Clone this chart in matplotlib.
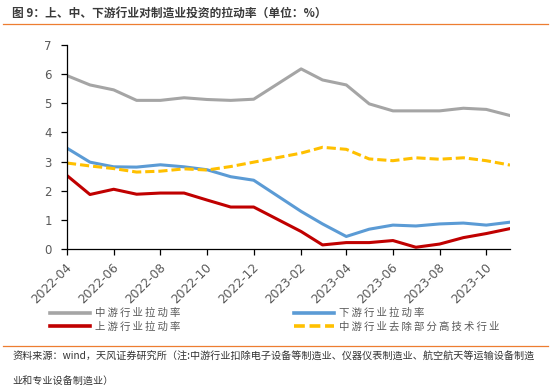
import numpy as np
import pandas as pd
import matplotlib
matplotlib.use("Agg")
import matplotlib.pyplot as plt
import matplotlib.dates as mdates
import matplotlib.transforms as mtransforms
from matplotlib.lines import Line2D

plt.rcParams['font.family'] = ['Noto Sans CJK SC', 'DejaVu Sans']

# ==============================
# DATA
# ==============================
months = ['2022-04', '2022-05', '2022-06', '2022-07', '2022-08', '2022-09',
          '2022-10', '2022-11', '2022-12', '2023-02', '2023-03', '2023-04',
          '2023-05', '2023-06', '2023-07', '2023-08', '2023-09', '2023-10',
          '2023-11']

mid_rate = [5.95, 5.63, 5.46, 5.10, 5.10, 5.19, 5.13, 5.10, 5.14, 6.18,
            5.80, 5.63, 4.98, 4.74, 4.74, 4.74, 4.83, 4.79, 4.58]
down_rate = [3.46, 2.98, 2.82, 2.81, 2.89, 2.82, 2.72, 2.48, 2.36, 1.29,
             0.86, 0.43, 0.68, 0.82, 0.79, 0.86, 0.89, 0.82, 0.92]
up_rate = [2.52, 1.87, 2.05, 1.88, 1.92, 1.92, 1.68, 1.44, 1.44, 0.60,
           0.14, 0.22, 0.22, 0.29, 0.06, 0.17, 0.39, 0.53, 0.70]
mid_ex_tech = [2.95, 2.85, 2.76, 2.64, 2.67, 2.75, 2.71, 2.83, 2.98, 3.29,
               3.49, 3.42, 3.09, 3.03, 3.13, 3.08, 3.13, 3.03, 2.88]

series_names = ['中游行业拉动率', '上游行业拉动率', '下游行业拉动率', '中游行业去除部分高技术行业']

title_text = '图 9：上、中、下游行业对制造业投资的拉动率（单位：%）'
note_line1 = '资料来源：wind，天风证券研究所（注:中游行业扣除电子设备等制造业、仪器仪表制造业、航空航天等运输设备制造'
note_line2 = '业和专业设备制造业）'

dates = pd.to_datetime(months)

W, H = 551, 390
DASH = (0, (3, 1.3))

# ==============================
# FIGURE
# ==============================
fig = plt.figure(figsize=(W / 100, H / 100), dpi=100)
ax = fig.add_axes([67 / W, 1 - 249 / H, (510 - 67) / W, (249 - 45) / H])

ax.plot(dates, mid_rate, color='#A5A5A5', lw=2.2)
ax.plot(dates, up_rate, color='#C00000', lw=2.2)
ax.plot(dates, down_rate, color='#5B9BD5', lw=2.2)
ax.plot(dates, mid_ex_tech, color='#FFC000', lw=2.2, ls=DASH)

ax.set_xlim(dates[0], dates[-1])
ax.set_ylim(0, 7)
ax.set_yticks(range(0, 8))

ax.xaxis.set_major_locator(mdates.MonthLocator(bymonth=[2, 4, 6, 8, 10, 12]))
ax.xaxis.set_major_formatter(mdates.DateFormatter('%Y-%m'))

for s in ['top', 'right']:
    ax.spines[s].set_visible(False)
for s in ['left', 'bottom']:
    ax.spines[s].set_color('black')
    ax.spines[s].set_linewidth(0.9)

ax.tick_params(axis='y', length=4, width=0.9, labelsize=8.5, labelcolor='#595959', pad=7)
ax.tick_params(axis='x', length=4, width=0.9, labelsize=8.8, labelcolor='#595959', pad=7.5)
shift = mtransforms.ScaledTranslation(3 / 100, 0, fig.dpi_scale_trans)
for lbl in ax.get_xticklabels():
    lbl.set_rotation(45)
    lbl.set_ha('right')
    lbl.set_va('center')
    lbl.set_rotation_mode('anchor')
    lbl.set_family(['DejaVu Sans'])
    lbl.set_transform(lbl.get_transform() + shift)
for lbl in ax.get_yticklabels():
    lbl.set_family(['DejaVu Sans'])

# legend: two single-column blocks
colors = ['#A5A5A5', '#C00000', '#5B9BD5', '#FFC000']
styles = ['-', '-', '-', DASH]
handles = [Line2D([], [], color=c, lw=2.6, ls=st) for c, st in zip(colors, styles)]
spaced = ['\u2009'.join(n) for n in series_names]
leg_kw = dict(loc='upper left', frameon=False, fontsize=7.5, handlelength=3.85,
              handletextpad=0.45, labelspacing=0.34, borderpad=0, borderaxespad=0)
leg1 = fig.legend(handles[:2], spaced[:2], bbox_to_anchor=(50 / W, 1 - 308 / H), **leg_kw)
leg2 = fig.legend(handles[2:], spaced[2:], bbox_to_anchor=(294 / W, 1 - 308 / H), **leg_kw)
for leg in (leg1, leg2):
    for t in leg.get_texts():
        t.set_color('#595959')

# title, rules, note
fig.text(12 / W, 1 - 13 / H, title_text, fontsize=8.45, fontweight='bold',
         color='#3a3a3a', va='center', ha='left')
fig.add_artist(Line2D([3 / W, 548 / W], [1 - 24 / H, 1 - 24 / H], color='#ED7D31', lw=0.9))
fig.add_artist(Line2D([3 / W, 548 / W], [1 - 346 / H, 1 - 346 / H], color='#ED7D31', lw=0.9))
fig.text(12 / W, 1 - 357 / H, note_line1, fontsize=7.28, color='#333333', va='center', ha='left')
fig.text(12 / W, 1 - 381 / H, note_line2, fontsize=7.28, color='#333333', va='center', ha='left')

fig.savefig('out.png', dpi=100)
